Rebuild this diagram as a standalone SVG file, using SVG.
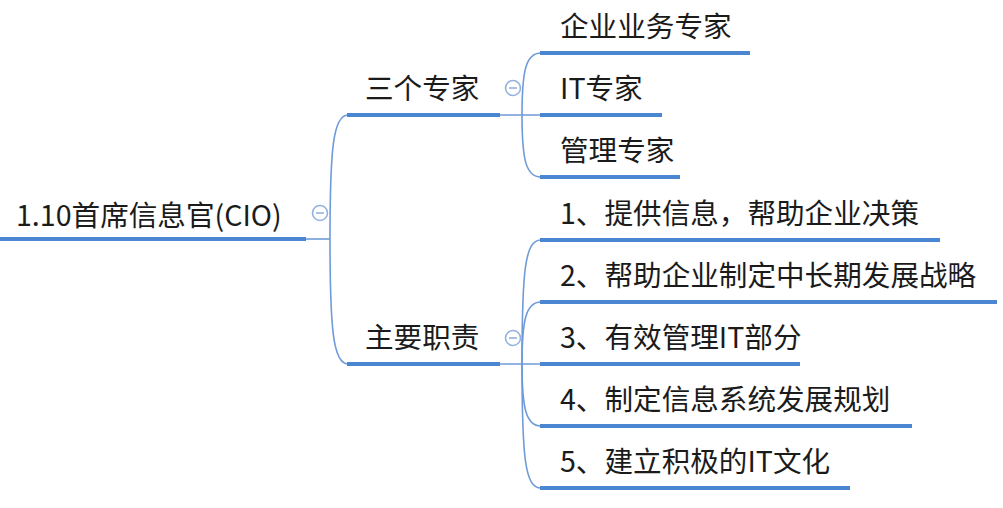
<svg xmlns="http://www.w3.org/2000/svg" width="1003" height="508" viewBox="0 0 1003 508">
<style>
text{font-family:"Noto Sans CJK SC","Microsoft YaHei",sans-serif;font-size:28.6px;fill:#1b1b1b}
.ul{stroke:#4a86d2;stroke-width:4;fill:none}
.cn{stroke:#6f9bd8;stroke-width:1.6;fill:none}
.ic circle{fill:#fff;stroke:#94b2df;stroke-width:1.6}
.ic line{stroke:#94b2df;stroke-width:1.6}
</style>
<rect width="1003" height="508" fill="#fff"/>
<g id="connectors">
<path class="cn" d="M306,239 H330"/>
<path class="cn" d="M330,239 C330,150 333,115 348,115"/>
<path class="cn" d="M330,239 C330,328 333,364 348,364"/>
<path class="cn" d="M500,115 H541"/>
<path class="cn" d="M522,115 C522,70 526,53 541,53"/>
<path class="cn" d="M522,115 C522,160 526,177 541,177"/>
<path class="cn" d="M500,364 H541"/>
<path class="cn" d="M522,364 C522,270 525,240 541,240"/>
<path class="cn" d="M522,364 C522,320 526,302 541,302"/>
<path class="cn" d="M522,364 C522,408 526,426 541,426"/>
<path class="cn" d="M522,364 C522,458 525,488 541,488"/>
</g>
<g id="root">
<text x="16" y="226">1.10首席信息官(CIO)</text>
<line class="ul" x1="0" y1="239" x2="306" y2="239"/>
<g class="ic"><circle cx="320" cy="213" r="7.5"/><line x1="316" y1="213" x2="324" y2="213"/></g>
</g>
<g id="n-experts">
<text x="365" y="99">三个专家</text>
<line class="ul" x1="347" y1="115" x2="500" y2="115"/>
<g class="ic"><circle cx="513" cy="88" r="7.5"/><line x1="509" y1="88" x2="517" y2="88"/></g>
</g>
<g id="n-duties">
<text x="365" y="348">主要职责</text>
<line class="ul" x1="347" y1="364" x2="500" y2="364"/>
<g class="ic"><circle cx="513" cy="338" r="7.5"/><line x1="509" y1="338" x2="517" y2="338"/></g>
</g>
<g id="n-biz">
<text x="560" y="37">企业业务专家</text>
<line class="ul" x1="540" y1="53" x2="750" y2="53"/>
</g>
<g id="n-it">
<text x="560" y="99">IT专家</text>
<line class="ul" x1="540" y1="115" x2="662" y2="115"/>
</g>
<g id="n-mgmt">
<text x="560" y="161">管理专家</text>
<line class="ul" x1="540" y1="177" x2="680" y2="177"/>
</g>
<g id="n-d1">
<text x="560" y="224">1、提供信息，帮助企业决策</text>
<line class="ul" x1="540" y1="240" x2="940" y2="240"/>
</g>
<g id="n-d2">
<text x="560" y="286">2、帮助企业制定中长期发展战略</text>
<line class="ul" x1="540" y1="302" x2="997" y2="302"/>
</g>
<g id="n-d3">
<text x="560" y="348">3、有效管理IT部分</text>
<line class="ul" x1="540" y1="364" x2="800" y2="364"/>
</g>
<g id="n-d4">
<text x="560" y="410">4、制定信息系统发展规划</text>
<line class="ul" x1="540" y1="426" x2="912" y2="426"/>
</g>
<g id="n-d5">
<text x="560" y="472">5、建立积极的IT文化</text>
<line class="ul" x1="540" y1="488" x2="850" y2="488"/>
</g>
</svg>
